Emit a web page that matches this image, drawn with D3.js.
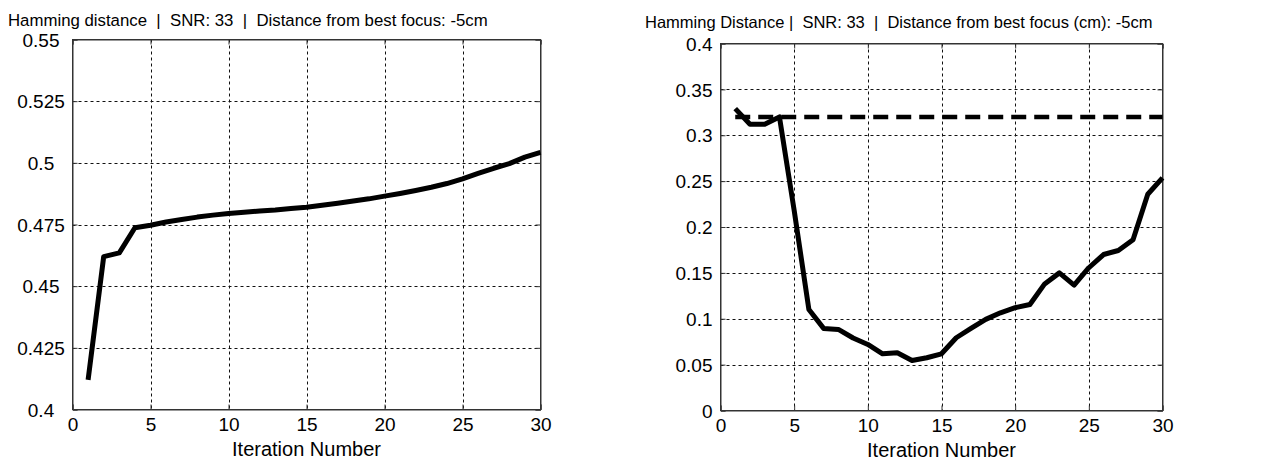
<!DOCTYPE html>
<html>
<head>
<meta charset="utf-8">
<script src="https://cdn.jsdelivr.net/npm/d3@7"></script>
<style>
  body { margin: 0; background: #fff; }
  text { font-family: "Liberation Sans", Arial, sans-serif; fill: #000; }
</style>
</head>
<body>
<div id="chart"></div>
<script>
// Iteration numbers shared by both panels
const iterations = [1, 2, 3, 4, 5, 6, 7, 8, 9, 10, 11, 12, 13, 14, 15,
                    16, 17, 18, 19, 20, 21, 22, 23, 24, 25, 26, 27, 28, 29, 30];

// Left panel: Hamming distance per iteration
const leftHamming = [0.412, 0.462, 0.4635, 0.4737, 0.4747, 0.476, 0.477, 0.478, 0.4788, 0.4795,
                     0.480, 0.4805, 0.4809, 0.4815, 0.482, 0.4828, 0.4836, 0.4845, 0.4854, 0.4865,
                     0.4876, 0.4888, 0.4901, 0.4916, 0.4935, 0.4957, 0.4978, 0.4997, 0.5023, 0.5042];

// Right panel: Hamming distance per iteration, plus the dashed reference level
const rightHamming = [0.329, 0.312, 0.312, 0.320, 0.218, 0.110, 0.0895, 0.0884, 0.079, 0.072,
                      0.0618, 0.0629, 0.0545, 0.0575, 0.0618, 0.0793, 0.0895, 0.0993, 0.1065, 0.112,
                      0.1156, 0.138, 0.150, 0.1367, 0.1556, 0.170, 0.1744, 0.186, 0.2357, 0.2536];
const rightThreshold = [0.32, 0.32];
const thresholdIters = [1, 30];

// Tick values and labels
const xTicks = [0, 5, 10, 15, 20, 25, 30];
const leftYTicks = [0.4, 0.425, 0.45, 0.475, 0.5, 0.525, 0.55];
const leftYLabels = ["0.4", "0.425", "0.45", "0.475", "0.5", "0.525", "0.55"];
const rightYTicks = [0, 0.05, 0.1, 0.15, 0.2, 0.25, 0.3, 0.35, 0.4];
const rightYLabels = ["0", "0.05", "0.1", "0.15", "0.2", "0.25", "0.3", "0.35", "0.4"];

const leftTitle = "Hamming distance  |  SNR: 33  |  Distance from best focus: -5cm";
const rightTitle = "Hamming Distance |  SNR: 33  |  Distance from best focus (cm): -5cm";
const xLabel = "Iteration Number";

const width = 1287, height = 459;

const svg = d3.select("#chart")
  .append("svg")
  .attr("width", width)
  .attr("height", height)
  .style("background", "#fff");

function drawPanel(p) {
  const x = d3.scaleLinear().domain([0, 30]).range([p.left, p.right]);
  const y = d3.scaleLinear().domain(p.yDomain).range([p.bottom, p.top]);

  // dotted grid
  const grid = svg.append("g")
    .attr("stroke", "#111")
    .attr("stroke-width", 1)
    .attr("stroke-dasharray", "3,3");
  grid.selectAll(".gx")
    .data(xTicks.slice(1, -1))
    .join("line")
    .attr("x1", d => Math.round(x(d)) + 0.5)
    .attr("x2", d => Math.round(x(d)) + 0.5)
    .attr("y1", p.top)
    .attr("y2", p.bottom);
  grid.selectAll(".gy")
    .data(p.yTicks.slice(1, -1))
    .join("line")
    .attr("x1", p.left)
    .attr("x2", p.right)
    .attr("y1", d => Math.round(y(d)) + 0.5)
    .attr("y2", d => Math.round(y(d)) + 0.5);

  // axes with small inward ticks
  const xAxis = svg.append("g")
    .attr("transform", `translate(0,${p.bottom})`)
    .call(d3.axisBottom(x).tickValues(xTicks).tickSize(-5).tickPadding(8));
  xAxis.selectAll("text").style("font-size", "19px").attr("dy", "0.71em");

  const yAxis = svg.append("g")
    .attr("transform", `translate(${p.left},0)`)
    .call(d3.axisLeft(y).tickValues(p.yTicks).tickSize(-5)
      .tickFormat((d, i) => p.yLabels[i]).tickPadding(8));
  yAxis.selectAll("text").style("font-size", "19px").attr("dy", "0.35em");
  if (p.centerLabels) {
    yAxis.selectAll("text")
      .attr("text-anchor", "middle")
      .attr("x", p.labelCenter - p.left);
  }

  svg.append("g")
    .attr("transform", `translate(0,${p.top})`)
    .call(d3.axisTop(x).tickValues(xTicks).tickSize(-5).tickFormat(""));
  svg.append("g")
    .attr("transform", `translate(${p.right},0)`)
    .call(d3.axisRight(y).tickValues(p.yTicks).tickSize(-5).tickFormat(""));

  svg.selectAll(".domain").attr("stroke", "#333");
  svg.selectAll(".tick line").attr("stroke", "#333");

  // box
  svg.append("rect")
    .attr("x", p.left)
    .attr("y", p.top)
    .attr("width", p.right - p.left)
    .attr("height", p.bottom - p.top)
    .attr("fill", "none")
    .attr("stroke", "#333");

  const line = d3.line()
    .x(d => x(d[0]))
    .y(d => y(d[1]));

  if (p.threshold) {
    svg.append("path")
      .datum(d3.zip(thresholdIters, p.threshold))
      .attr("d", line)
      .attr("fill", "none")
      .attr("stroke", "#000")
      .attr("stroke-width", 4.5)
      .attr("stroke-dasharray", "15,8");
  }

  svg.append("path")
    .datum(d3.zip(iterations, p.values))
    .attr("d", line)
    .attr("fill", "none")
    .attr("stroke", "#000")
    .attr("stroke-width", 5)
    .attr("stroke-linejoin", "round");

  // title and x label
  svg.append("text")
    .attr("x", p.titleX)
    .attr("y", p.titleY)
    .style("font-size", p.titleSize + "px")
    .style("white-space", "pre")
    .text(p.title);

  svg.append("text")
    .attr("x", (p.left + p.right) / 2)
    .attr("y", p.bottom + 46)
    .attr("text-anchor", "middle")
    .style("font-size", "20px")
    .text(xLabel);
}

drawPanel({
  left: 72.5, right: 540.5, top: 39.5, bottom: 409.5,
  yDomain: [0.4, 0.55], yTicks: leftYTicks, yLabels: leftYLabels,
  centerLabels: true, labelCenter: 41,
  values: leftHamming, title: leftTitle, titleX: 8, titleY: 25.5, titleSize: 16.8
});

drawPanel({
  left: 720.5, right: 1162.5, top: 43.5, bottom: 410.5,
  yDomain: [0, 0.4], yTicks: rightYTicks, yLabels: rightYLabels,
  values: rightHamming, threshold: rightThreshold,
  title: rightTitle, titleX: 645, titleY: 27.5, titleSize: 16.5
});
</script>
</body>
</html>
